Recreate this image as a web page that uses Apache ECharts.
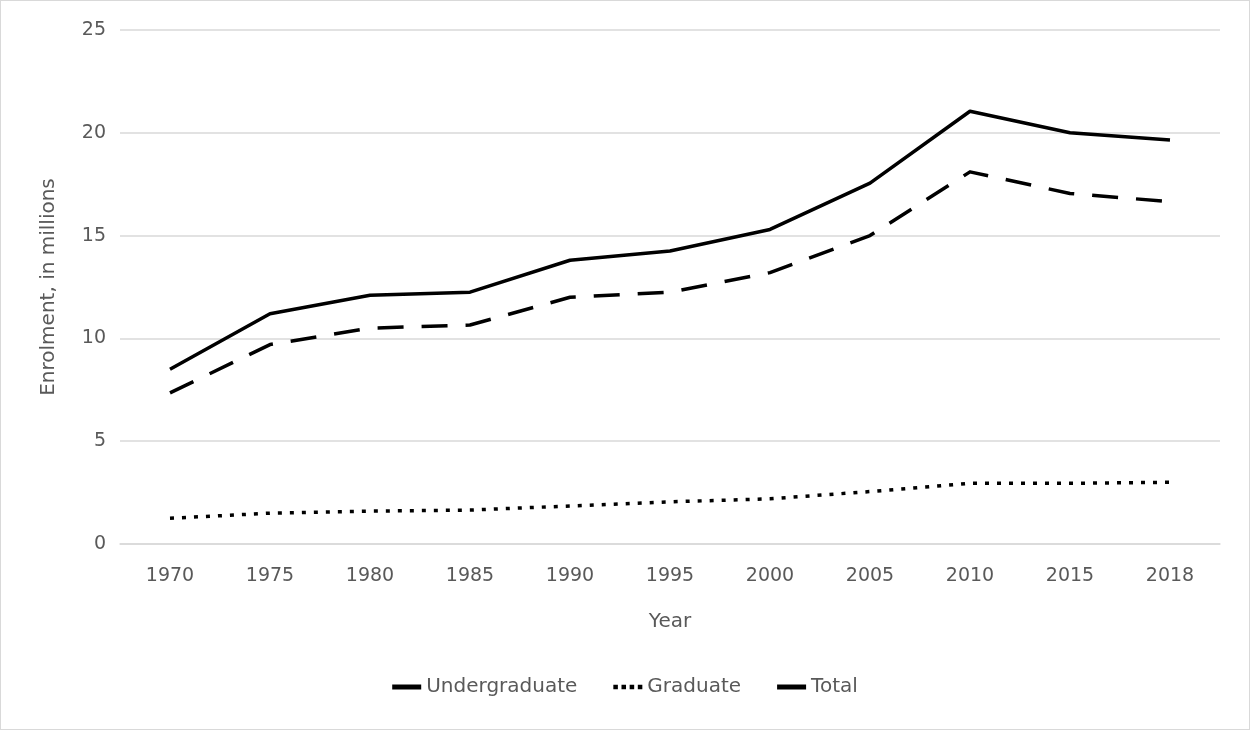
<!DOCTYPE html>
<html>
<head>
<meta charset="utf-8">
<script src="https://cdn.jsdelivr.net/npm/echarts@6/dist/echarts.min.js"></script>
<style>
  html, body { margin: 0; padding: 0; background: #fff; }
  #chart { width: 1250px; height: 730px; box-sizing: border-box; border: 1px solid #d9d9d9; }
</style>
</head>
<body>
<div id="chart"></div>
<script>
// Enrolment by level of study, in millions
const years = ['1970', '1975', '1980', '1985', '1990', '1995', '2000', '2005', '2010', '2015', '2018'];
const undergraduate = [7.35, 9.7, 10.5, 10.65, 12.0, 12.25, 13.2, 15.0, 18.1, 17.05, 16.65];
const graduate = [1.25, 1.5, 1.6, 1.65, 1.85, 2.05, 2.2, 2.55, 2.95, 2.95, 3.0];
const total = [8.5, 11.2, 12.1, 12.25, 13.8, 14.25, 15.3, 17.55, 21.05, 20.0, 19.65];

const FONT = '"DejaVu Sans", "Open Sans", sans-serif';
const GREY = '#595959';

// legend glyphs: a short bar for solid/dashed lines, square dots for the dotted line
const BAR_ICON = 'rect';
const DOT_ICON = 'path://M0,0h5v5h-5z M9,0h5v5h-5z M18,0h5v5h-5z M27,0h5v5h-5z';

const chart = echarts.init(document.getElementById('chart'));

function lineSeries(name, data, dash) {
  return {
    name: name,
    type: 'line',
    data: data,
    symbol: 'none',
    silent: true,
    lineStyle: { color: '#000', width: 3.5, type: dash, cap: 'butt', join: 'round' }
  };
}

chart.setOption({
  animation: false,
  backgroundColor: '#fff',
  grid: { left: 119, right: 29, top: 29, bottom: 185, containLabel: false },
  xAxis: {
    type: 'category',
    data: years,
    boundaryGap: true,
    name: 'Year',
    nameLocation: 'middle',
    nameGap: 68,
    nameTextStyle: { color: GREY, fontFamily: FONT, fontSize: 20 },
    axisLine: { show: true, lineStyle: { color: '#d9d9d9', width: 1.5 } },
    axisTick: { show: false },
    axisLabel: { color: GREY, fontFamily: FONT, fontSize: 19, margin: 23 }
  },
  yAxis: {
    type: 'value',
    min: 0,
    max: 25,
    interval: 5,
    name: 'Enrolment, in millions',
    nameLocation: 'middle',
    nameGap: 61,
    nameTextStyle: { color: GREY, fontFamily: FONT, fontSize: 20 },
    axisLine: { show: false },
    axisTick: { show: false },
    axisLabel: { color: GREY, fontFamily: FONT, fontSize: 19, margin: 14 },
    splitLine: { lineStyle: { color: '#d9d9d9', width: 1.5 } }
  },
  legend: {
    bottom: 27,
    left: 'center',
    itemWidth: 29,
    itemHeight: 5,
    itemGap: 36,
    textStyle: { color: GREY, fontFamily: FONT, fontSize: 20 },
    data: [
      { name: 'Undergraduate', icon: BAR_ICON, itemStyle: { color: '#000' } },
      { name: 'Graduate', icon: DOT_ICON, itemStyle: { color: '#000' } },
      { name: 'Total', icon: BAR_ICON, itemStyle: { color: '#000' } }
    ]
  },
  series: [
    lineSeries('Undergraduate', undergraduate, [26, 18]),
    lineSeries('Graduate', graduate, [4, 8]),
    lineSeries('Total', total, 'solid')
  ]
});
</script>
</body>
</html>
